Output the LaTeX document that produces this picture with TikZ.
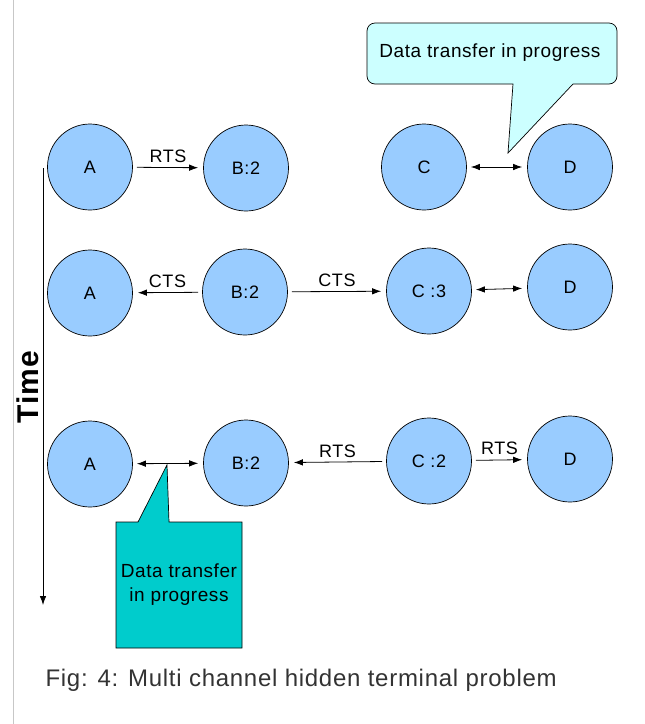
\documentclass[tikz,border=0pt]{standalone}
\usepackage{fontspec}
\setmainfont{Liberation Sans}[LetterSpace=3]
\usetikzlibrary{shapes.geometric,arrows.meta}
\definecolor{nodeblue}{HTML}{99CCFF}
\definecolor{paleaqua}{HTML}{CCFFFF}
\definecolor{darkaqua}{HTML}{00CCCC}
\definecolor{captiongray}{HTML}{333333}

\begin{document}
\begin{tikzpicture}[x=1pt, y=-1pt, >={Latex[length=9pt,width=6.5pt]}]
\tikzstyle{every node}=[font=\fontsize{18}{21}\selectfont]
\tikzstyle{station}=[draw, ellipse, fill=nodeblue, minimum width=85pt,
                     minimum height=86pt, inner sep=0pt, line width=0.7pt]
\tikzstyle{msg}=[line width=0.8pt, shorten >=5pt, shorten <=4pt]
\tikzstyle{bubble}=[font=\fontsize{19}{24}\selectfont, align=center]
\useasboundingbox (0,0) rectangle (645,724);
\draw[black!22, line width=1pt] (13,0) -- (13,724);

% callouts
\draw[fill=paleaqua, line width=0.7pt] (508,153) -- (513,84)
  [rounded corners=8pt] -- (367,84) -- (367,23) -- (617,23) -- (617,84)
  [sharp corners] -- (573,84) -- cycle;
\node(info1)[bubble] at (490,53) {Data transfer in progress};

\draw[fill=darkaqua, line width=0.7pt] (167,465) -- (169,522) -- (242,522)
  -- (242,648) -- (116,648) -- (116,522) -- (138,522) -- cycle;
\node(info2)[bubble] at (179,585) {Data transfer\\in progress};

% first row
\node(a1)[station] at ( 90, 167) {A};
\node(b1)[station] at (246, 168) {B:2};
\node(c1)[station] at (424, 167) {C};
\node(d1)[station] at (570, 167) {D};

% second row
\node(a2)[station] at ( 90, 293) {A};
\node(b2)[station] at (245, 292) {B:2};
\node(c2)[station] at (429, 291) {C :3};
\node(d2)[station] at (570, 287) {D};

% third row
\node(a3)[station] at ( 90, 464) {A};
\node(b3)[station] at (246, 463) {B:2};
\node(c3)[station] at (429, 461) {C :2};
\node(d3)[station] at (570, 459) {D};

\draw[msg, ->]  (a1) -- (b1) node[midway, above=1pt] {RTS};
\draw[msg, <->] (c1) -- (d1);

\draw[msg, ->]  (b2) -- (a2) node[midway, above=1pt] {CTS};
\draw[msg, ->]  (b2) -- (c2) node[midway, above=1pt] {CTS};
\draw[msg, <->] (c2) -- (d2);

\draw[msg, <->] (a3) -- (b3);
\draw[msg, ->]  (c3) -- (b3) node[midway, above=1pt] {RTS};
\draw[msg, ->]  (c3) -- (d3) node[midway, above=2pt] {RTS};

% time axis
\coordinate(t0) at (43,168);
\coordinate(t1) at (43,605);
\draw[->, line width=0.8pt] (t0) -- (t1);
\node(time)[rotate=90, font=\bfseries\fontsize{30}{30}\selectfont] at (28,387) {Time};

\node(caption)[anchor=base west, text=captiongray,
  font=\fontsize{24}{28}\selectfont] at (42,686)
  {Fig: 4: Multi channel hidden terminal problem};

\end{tikzpicture}
\end{document}
